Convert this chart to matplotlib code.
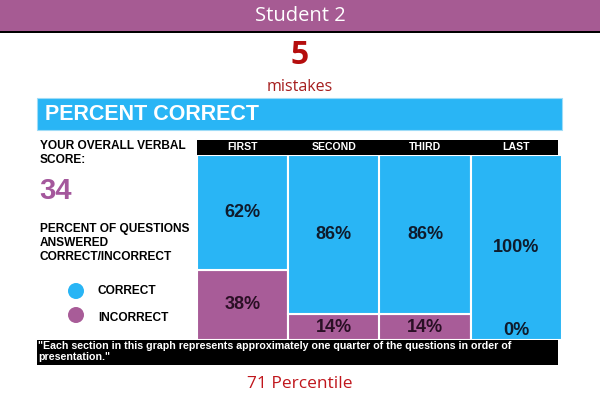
import matplotlib
matplotlib.use('Agg')
import matplotlib.pyplot as plt
from matplotlib.patches import Rectangle, Circle

# data
sections = ['FIRST', 'SECOND', 'THIRD', 'LAST']
correct = [62, 86, 86, 100]
incorrect = [38, 14, 14, 0]
student = 'Student 2'
mistakes = 5
verbal_score = 34
percentile = 71

blue = '#29b5f5'
purple = '#a85c98'
header_purple = '#a65b93'
navy = '#0f1b2c'
red = '#b50d0d'
darkred = '#a51d1d'

arial = ['Liberation Sans', 'DejaVu Sans']
round_font = ['Open Sans', 'DejaVu Sans']

fig = plt.figure(figsize=(6, 4), dpi=100)
fig.patch.set_facecolor('white')

# background axes in pixel coords
bg = fig.add_axes([0, 0, 1, 1])
bg.set_xlim(0, 600)
bg.set_ylim(400, 0)
bg.axis('off')

bg.add_patch(Rectangle((0, 0), 600, 31, color=header_purple, lw=0))
bg.add_patch(Rectangle((0, 31), 600, 2, color='black', lw=0))
bg.text(300, 16, student, color='white', fontsize=14.5, ha='center', va='center',
        family=round_font)

bg.text(300, 56, str(mistakes), color=red, fontsize=23, ha='center', va='center',
        family=round_font, fontweight='bold')
bg.text(300, 87, 'mistakes', color=darkred, fontsize=11.5, ha='center', va='center',
        family=round_font)

# banner
bg.add_patch(Rectangle((37, 98), 525, 32, facecolor=blue, edgecolor='#9fdcf7', lw=0.8))
bg.text(45, 114, 'PERCENT CORRECT', color='white', fontsize=15.5, fontweight='bold',
        ha='left', va='center', family=arial)

# left panel text
bg.text(40, 153, 'YOUR OVERALL VERBAL\nSCORE:', color='black', fontsize=8.6,
        fontweight='bold', ha='left', va='center', family=arial, linespacing=1.15)
bg.text(39, 191, str(verbal_score), color='#a4579c', fontsize=21, fontweight='bold',
        ha='left', va='center', family=arial)
bg.text(40, 243, 'PERCENT OF QUESTIONS\nANSWERED\nCORRECT/INCORRECT', color='black',
        fontsize=8.6, fontweight='bold', ha='left', va='center', family=arial,
        linespacing=1.18)

bg.add_patch(Circle((76, 291), 8, color=blue, lw=0))
bg.add_patch(Circle((76, 315), 8, color=purple, lw=0))
bg.text(98, 291, 'CORRECT', color='black', fontsize=8.6, fontweight='bold',
        ha='left', va='center', family=arial)
bg.text(98, 318, 'INCORRECT', color='black', fontsize=8.6, fontweight='bold',
        ha='left', va='center', family=arial)

# footnote box
bg.add_patch(Rectangle((37, 340), 521, 25, color='black', lw=0))
bg.text(38, 341, '"Each section in this graph represents approximately one quarter of the questions in order of\npresentation."',
        color='white', fontsize=7.7, fontweight='bold', ha='left', va='top',
        family=arial, linespacing=1.15)

bg.text(300, 384, f'{percentile} Percentile', color='#c0161c', fontsize=12.5,
        ha='center', va='center', family=round_font)

# stacked bars
ax = fig.add_axes([197 / 600, 60 / 400, 365 / 600, 185 / 400])
ax.set_xlim(-0.5, len(sections) - 0.5)
ax.set_ylim(0, 100)
ax.axis('off')

x = list(range(len(sections)))
ax.bar(x, incorrect, width=1.0, color=purple, edgecolor='white', lw=1.5)
ax.bar(x, correct, bottom=incorrect, width=1.0, color=blue, edgecolor='white', lw=1.5)

for i, (c, w) in enumerate(zip(correct, incorrect)):
    ax.text(i, w + c / 2, f'{c}%', color=navy, fontsize=13, fontweight='bold',
            ha='center', va='center', family=arial)
    ax.text(i, max(w / 2, 5), f'{w}%', color=navy if w == 0 else '#2a0f25',
            fontsize=13, fontweight='bold', ha='center', va='center', family=arial)

# column header band
ax.add_patch(Rectangle((0, 1.0), 0.99, 15 / 185, transform=ax.transAxes,
                       color='black', lw=0, clip_on=False))
for i, s in enumerate(sections):
    ax.text(i, 1.0 + 7.5 / 185, s, transform=ax.get_xaxis_transform(), color='white',
            fontsize=7.6, fontweight='bold', ha='center', va='center', family=arial)

fig.savefig('out.png', dpi=100, facecolor='white')
